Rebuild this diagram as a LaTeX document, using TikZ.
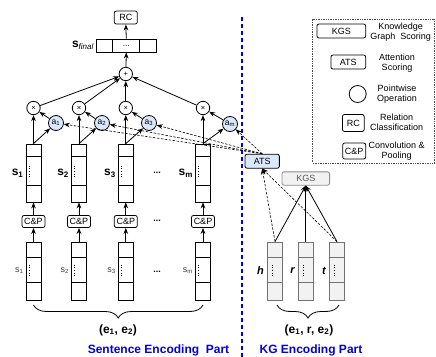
\documentclass[tikz,border=0pt]{standalone}
\usepackage{fontspec}
\setmainfont{Liberation Sans}
\usetikzlibrary{arrows.meta,calc,decorations.pathreplacing}

\definecolor{attblue}{HTML}{DAE8FC}
\definecolor{kggray}{HTML}{F2F2F2}
\definecolor{partblue}{RGB}{0,0,215}
\definecolor{sepblue}{RGB}{0,0,235}

\begin{document}
\begin{tikzpicture}[x=1pt,y=-1pt,
  every node/.style={font=\fontsize{9}{10}\selectfont},
  rbox/.style={draw, rounded corners=2pt, line width=0.8pt, inner sep=0pt, align=center, fill=white},
  vecbox/.style={draw, line width=0.8pt, minimum width=15pt, minimum height=58pt, inner sep=0pt, fill=white},
  kgvec/.style={vecbox, fill=kggray, draw=black!55},
  opcirc/.style={draw, circle, line width=0.8pt, inner sep=0pt, minimum size=13.4pt, fill=white, font=\fontsize{7.5}{7.5}\selectfont},
  attcirc/.style={draw, circle, line width=0.8pt, inner sep=0pt, minimum size=15pt, fill=attblue, font=\fontsize{8.5}{8.5}\selectfont},
  arr/.style={-{Stealth[length=6pt,width=4.6pt]}, line width=0.8pt},
  dasharr/.style={-{Stealth[length=6pt,width=4.6pt]}, line width=0.6pt, dash pattern=on 2.5pt off 1.5pt},
  veclabel/.style={anchor=east, inner sep=1pt, font=\fontsize{12}{12}\selectfont\bfseries},
  inlabel/.style={anchor=east, inner sep=1pt, font=\fontsize{9}{9}\selectfont, text=black!75},
  kglabel/.style={anchor=east, inner sep=1pt, font=\fontsize{11}{11}\selectfont\bfseries\itshape},
  gapdots/.style={font=\fontsize{9}{9}\selectfont\bfseries},
  celldots/.style={line width=0.7pt, dash pattern=on 0.7pt off 2pt},
  parttitle/.style={font=\fontsize{12}{12}\selectfont\bfseries, text=partblue},
  tuplelabel/.style={font=\fontsize{12}{12}\selectfont\bfseries},
  legtext/.style={align=center, font=\fontsize{9}{10}\selectfont},
  curly/.style={decorate, decoration={brace, mirror, amplitude=13pt}, line width=0.8pt},
  separator/.style={draw=sepblue, line width=2pt, dash pattern=on 4pt off 3pt},
]
\useasboundingbox (0,0) rectangle (436,356);

% ---------- sentence encoding part ----------
% upper (encoded) sentence vectors and lower (input) sentence vectors
\foreach \i/\x in {1/33.5, 2/79, 3/125.8, m/203} {
  \node[vecbox] (u\i) at (\x,173) {};
  \draw[line width=0.8pt] ($(u\i.north west)+(0,13)$) -- ($(u\i.north east)+(0,13)$);
  \draw[line width=0.8pt] ($(u\i.north west)+(0,42)$) -- ($(u\i.north east)+(0,42)$);
  \draw[celldots] ($(u\i.north west)+(3.5,22)$) -- ($(u\i.north west)+(3.5,34)$);
  \node[veclabel] at ($(u\i.west)+(-1,0)$) {s\textsubscript{\i}};

  \node[rbox, minimum width=23pt, minimum height=12pt] (cp\i) at (\x,221.5) {C\&P};

  \node[vecbox] (l\i) at (\x,271) {};
  \draw[line width=0.8pt] ($(l\i.north west)+(0,16)$) -- ($(l\i.north east)+(0,16)$);
  \draw[line width=0.8pt] ($(l\i.north west)+(0,41)$) -- ($(l\i.north east)+(0,41)$);
  \draw[celldots] ($(l\i.north west)+(3.5,23)$) -- ($(l\i.north west)+(3.5,35)$);
  \node[inlabel] at ($(l\i.west)+(-1,0)$) {s\textsubscript{\i}};
}
\node[gapdots] (gapu) at (157,173) {...};
\node[gapdots] (gapc) at (157,221) {...};
\node[gapdots] (gapl) at (157,272) {...};

% pointwise products and attention weights
\foreach \i/\x/\ax/\ay in {1/33.5/56/123, 2/79/102/123, 3/125.8/149/123, m/203/230/124} {
  \node[opcirc] (x\i) at (\x,108) {×};
  \node[attcirc] (a\i) at (\ax,\ay) {a\textsubscript{\i}};
}

% aggregation and classification
\node[opcirc] (plus) at (125.8,74) {+};
\node[draw, line width=0.8pt, minimum width=60.7pt, minimum height=13pt, inner sep=0pt] (sf) at (126.3,45.5) {};
\draw[line width=0.8pt] ($(sf.north west)+(16.7,0)$) -- ($(sf.south west)+(16.7,0)$);
\draw[line width=0.8pt] ($(sf.north west)+(44,0)$) -- ($(sf.south west)+(44,0)$);
\node[font=\fontsize{8}{8}\selectfont] (sfdots) at (126.3,46) {...};
\node[anchor=east, inner sep=1.5pt, font=\fontsize{12}{12}\selectfont\bfseries] (sflabel) at (sf.west) {s\textsubscript{\mdseries\itshape final}};
\node[rbox, minimum width=23pt, minimum height=13pt] (rc) at (125.8,17.5) {RC};

\draw[arr] (sf.north) -- (rc.south);
\draw[arr] (plus) -- (sf.south);

\foreach \i in {1,2,3,m} {
  \draw[arr] (l\i.north) -- (cp\i.south);
  \draw[arr] (cp\i.north) -- (u\i.south);
  \draw[arr] (u\i.north) -- (x\i);
  \draw[arr] (u\i.north) -- (a\i);
  \draw[arr] (a\i) -- (x\i);
  \draw[arr] (x\i) -- (plus);
}

% bottom brace of the sentence part
\coordinate (sbl) at (33.5,305);
\coordinate (sbr) at (203,305);
\draw[curly] (sbl) -- (sbr);
\node[tuplelabel] (stuple) at (118,330) {(e\textsubscript{1}, e\textsubscript{2})};
\node[parttitle] (spart) at (158.5,350) {Sentence Encoding\ \ Part};

% separator between the two parts
\coordinate (septop) at (241.5,17);
\coordinate (sepbot) at (241.5,357);
\path[separator] (septop) -- (sepbot);

% ---------- KG encoding part ----------
\node[rbox, fill=attblue, minimum width=34.3pt, minimum height=14pt] (ats) at (262.2,161.2) {ATS};
\node[rbox, fill=kggray, draw=black!45, text=black!65, minimum width=47.6pt, minimum height=13.3pt] (kgs) at (305.8,178.5) {KGS};

\foreach \n/\x in {h/275, r/305.8, t/337} {
  \node[kgvec] (\n) at (\x,271) {};
  \draw[line width=0.8pt, black!55] ($(\n.north west)+(0,16)$) -- ($(\n.north east)+(0,16)$);
  \draw[line width=0.8pt, black!55] ($(\n.north west)+(0,41)$) -- ($(\n.north east)+(0,41)$);
  \draw[celldots] ($(\n.north west)+(5,23)$) -- ($(\n.north west)+(5,35)$);
  \node[kglabel] at ($(\n.west)+(-2,0)$) {\n};
  \draw[arr] (\n.north) -- (kgs.south);
}
\draw[dasharr] (h.north) -- (ats.south);
\draw[dasharr] (t.north) -- (ats.south);

% attention scores sent to every sentence
\foreach \i in {1,2,3,m} {
  \draw[dasharr] (ats.north) -- (a\i);
}

\coordinate (kbl) at (277,305);
\coordinate (kbr) at (339,305);
\draw[curly] (kbl) -- (kbr);
\node[tuplelabel] (ktuple) at (309,330) {(e\textsubscript{1}, r, e\textsubscript{2})};
\node[parttitle] (kpart) at (311,350) {KG Encoding Part};

% ---------- legend ----------
\node[draw=black!70, densely dotted, line width=0.7pt, minimum width=122pt, minimum height=144pt, inner sep=0pt] (legend) at (373.8,91) {};
\node[rbox, minimum width=48.7pt, minimum height=14pt] (lkgs) at (341.3,31) {KGS};
\node[legtext] (lkgst) at (400.7,32) {Knowledge\\Graph\ \ Scoring};
\node[rbox, minimum width=34.7pt, minimum height=14pt] (lats) at (348.3,62) {ATS};
\node[legtext] (latst) at (397,63) {Attention\\Scoring};
\node[draw, circle, line width=0.8pt, minimum size=17pt, inner sep=0pt] (lop) at (357.7,94) {};
\node[legtext] (lopt) at (397,94) {Pointwise\\Operation};
\node[rbox, minimum width=21.7pt, minimum height=17pt] (lrc) at (353.3,123) {RC};
\node[legtext] (lrct) at (396.7,122) {Relation\\Classification};
\node[rbox, minimum width=23pt, minimum height=16pt] (lcp) at (354.2,151) {C\&P};
\node[legtext] (lcpt) at (396.7,151) {Convolution \&\\Pooling};
\end{tikzpicture}
\end{document}
